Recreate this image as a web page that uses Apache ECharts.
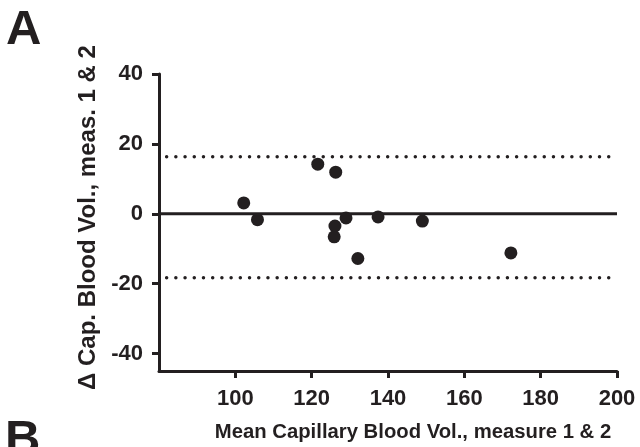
<!DOCTYPE html>
<html>
<head>
<meta charset="utf-8">
<script src="https://cdn.jsdelivr.net/npm/echarts@6/dist/echarts.min.js"></script>
<style>
  html, body { margin: 0; padding: 0; background: #fff; }
  #chart { width: 640px; height: 447px; }
</style>
</head>
<body>
<div id="chart"></div>
<script>
// Bland-Altman data: mean of the two measures vs. difference
const meanVol = [102.2, 105.8, 121.6, 126.3, 126.1, 125.9, 129.0, 132.1, 137.4, 149.0, 172.2];
const diffVol = [3.1, -1.7, 14.2, 11.9, -3.5, -6.6, -1.2, -12.8, -0.9, -2.1, -11.2];

// limits of agreement and bias line
const biasLine = 0;
const upperLoA = 16.3;
const lowerLoA = -18.3;
const loaStart = 82;
const axisEnd = 200;

const xTicks = [100, 120, 140, 160, 180, 200];
const yTicks = [-40, -20, 0, 20, 40];

const ink = '#231f20';
const font = "'Liberation Sans', Arial, Helvetica, sans-serif";

const chart = echarts.init(document.getElementById('chart'), null, { renderer: 'canvas' });

const axisCommon = {
    axisLine: { show: true, onZero: false, lineStyle: { color: ink, width: 3 } },
    axisTick: { show: true, length: 7, lineStyle: { color: ink, width: 3 } },
    splitLine: { show: false },
    nameLocation: 'middle'
};

const option = {
    backgroundColor: '#fff',
    animation: false,
    grid: { left: 159, right: 23, top: 74, bottom: 75 },
    xAxis: {
        ...axisCommon,
        type: 'value',
        min: 80,
        max: 200,
        axisTick: { ...axisCommon.axisTick, customValues: xTicks },
        axisLabel: {
            customValues: xTicks,
            margin: 17,
            color: ink,
            fontFamily: font,
            fontWeight: 'bold',
            fontSize: 22
        },
        name: 'Mean Capillary Blood Vol., measure 1 & 2',
        nameGap: 51,
        nameTextStyle: {
            color: ink, fontFamily: font, fontWeight: 'bold', fontSize: 20.3,
            padding: [0, 0, 0, 50]
        }
    },
    yAxis: {
        ...axisCommon,
        type: 'value',
        min: -45,
        max: 40,
        axisTick: { ...axisCommon.axisTick, customValues: yTicks },
        axisLabel: {
            customValues: yTicks,
            margin: 16,
            color: ink,
            fontFamily: font,
            fontWeight: 'bold',
            fontSize: 22
        },
        name: '\u0394 Cap. Blood Vol., meas. 1 & 2',
        nameGap: 56,
        nameRotate: 90,
        nameTextStyle: {
            color: ink, fontFamily: font, fontWeight: 'bold', fontSize: 24,
            padding: [0, 0, 0, 10]
        }
    },
    graphic: [
        { type: 'text', left: 6, top: 6, style: { text: 'A', font: 'bold 49px ' + font, fill: ink } },
        { type: 'text', left: 5, top: 416, style: { text: 'B', font: 'bold 49px ' + font, fill: ink } }
    ],
    series: [
        {
            type: 'line',
            data: [[80, biasLine], [axisEnd, biasLine]],
            symbol: 'none',
            lineStyle: { color: ink, width: 3 },
            z: 2
        },
        {
            type: 'line',
            data: [[loaStart, upperLoA], [axisEnd, upperLoA]],
            symbol: 'none',
            lineStyle: { color: ink, width: 3.5, type: [0.01, 9.2], cap: 'round' },
            z: 2
        },
        {
            type: 'line',
            data: [[loaStart, lowerLoA], [axisEnd, lowerLoA]],
            symbol: 'none',
            lineStyle: { color: ink, width: 3.5, type: [0.01, 9.2], cap: 'round' },
            z: 2
        },
        {
            type: 'scatter',
            data: meanVol.map((m, i) => [m, diffVol[i]]),
            symbol: 'circle',
            symbolSize: 13,
            itemStyle: { color: ink, opacity: 1 },
            z: 3
        }
    ]
};

chart.setOption(option);
</script>
</body>
</html>
